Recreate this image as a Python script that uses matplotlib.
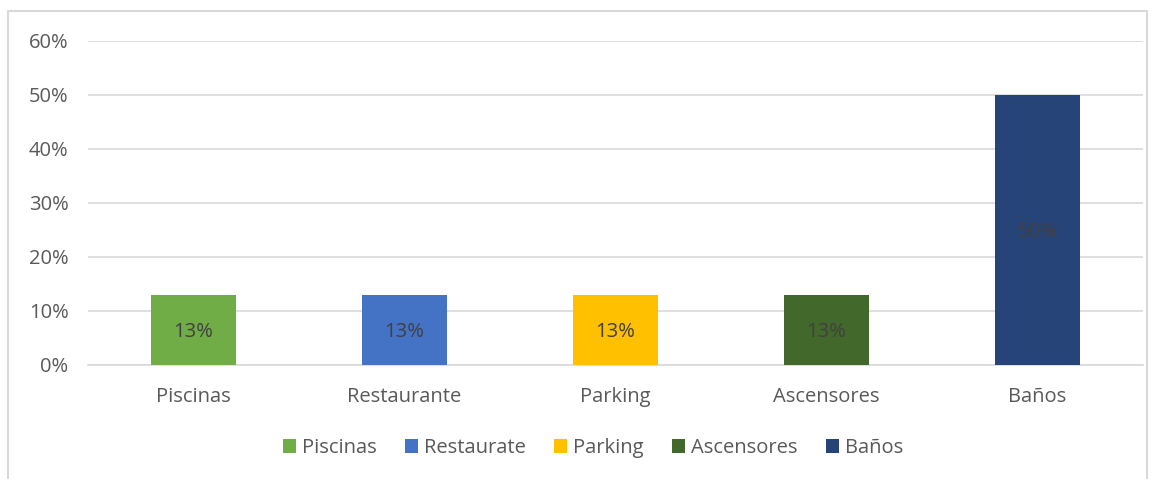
import numpy as np
import matplotlib.pyplot as plt
from matplotlib.lines import Line2D
from matplotlib.patches import Patch
from matplotlib.ticker import PercentFormatter

categories = ['Piscinas', 'Restaurante', 'Parking', 'Ascensores', 'Baños']
legend_labels = ['Piscinas', 'Restaurate', 'Parking', 'Ascensores', 'Baños']
values = [13, 13, 13, 13, 50]
colors = ['#70AD47', '#4472C4', '#FFC000', '#43682B', '#264478']

plt.rcParams['font.family'] = ['Open Sans', 'DejaVu Sans']

fig = plt.figure(figsize=(11.55, 4.79), dpi=100)
ax = fig.add_axes([88 / 1155, 1 - 365 / 479, (1143 - 88) / 1155, (365 - 41) / 479])

x = np.arange(len(categories))
bars = ax.bar(x, values, width=0.405, color=colors, zorder=3)

for b, v in zip(bars, values):
    ax.text(b.get_x() + b.get_width() / 2, v / 2 - 0.4, f'{v}%', ha='center', va='center',
            fontsize=14.5, color='#404040', zorder=4)

ax.set_ylim(0, 60)
ax.set_xlim(-0.5, len(categories) - 0.5)
ax.set_yticks(np.arange(0, 61, 10))
ax.yaxis.set_major_formatter(PercentFormatter(decimals=0))
ax.set_xticks(x)
ax.set_xticklabels(categories)
ax.grid(axis='y', color='#D9D9D9', linewidth=1.2, zorder=0)
ax.tick_params(axis='both', length=0, labelsize=14.5, labelcolor='#595959')
ax.tick_params(axis='y', pad=14)
ax.tick_params(axis='x', pad=16)
for s in ax.spines.values():
    s.set_visible(False)
ax.spines['bottom'].set_visible(True)
ax.spines['bottom'].set_color('#D9D9D9')
ax.spines['bottom'].set_linewidth(1.2)

handles = [Patch(facecolor=c) for c in colors]
fig.legend(handles, legend_labels, loc='center', bbox_to_anchor=(593 / 1155, 1 - 448 / 479),
           ncol=5, frameon=False, fontsize=14.5, handlelength=0.65, handleheight=0.65,
           handletextpad=0.3, columnspacing=1.4, labelcolor='#595959')

# light frame around the chart (left, top, right)
fx = [8 / 1155, 8 / 1155, 1147 / 1155, 1147 / 1155]
fy = [0, 1 - 11 / 479, 1 - 11 / 479, 0]
fig.add_artist(Line2D(fx, fy, transform=fig.transFigure, color='#D9D9D9', linewidth=1.5))

fig.savefig('out.png', dpi=100)
